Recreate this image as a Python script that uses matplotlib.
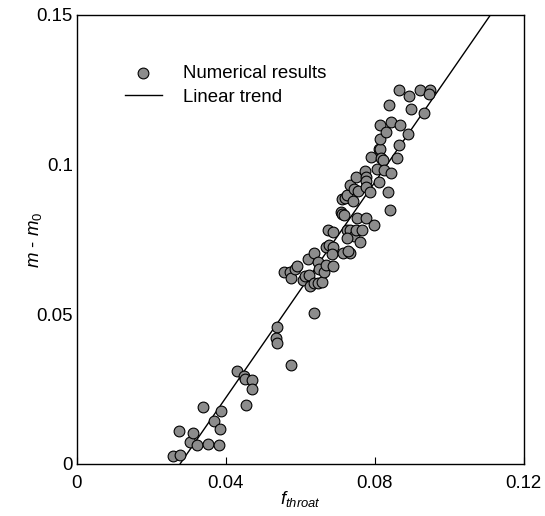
import matplotlib
matplotlib.use('Agg')
import matplotlib.pyplot as plt
import numpy as np

plt.rcParams['font.family'] = ['Liberation Sans', 'DejaVu Sans']
plt.rcParams['mathtext.fontset'] = 'custom'
plt.rcParams['mathtext.it'] = 'Liberation Sans:italic'
plt.rcParams['mathtext.rm'] = 'Liberation Sans'

# numerical results
f_throat = [0.0257, 0.0277, 0.0274, 0.0304, 0.0311, 0.0322, 0.0340, 0.0353, 0.0368, 0.0385,
            0.0388, 0.0383, 0.0430, 0.0450, 0.0452, 0.0470, 0.0471, 0.0453, 0.0538, 0.0536,
            0.0537, 0.0576, 0.0636, 0.0556, 0.0573, 0.0576, 0.0587, 0.0592, 0.0606, 0.0613,
            0.0624, 0.0627, 0.0638, 0.0647, 0.0657, 0.0622, 0.0636, 0.0647, 0.0650, 0.0663,
            0.0669, 0.0687, 0.0670, 0.0675, 0.0687, 0.0678, 0.0689, 0.0684, 0.0715, 0.0734,
            0.0729, 0.0710, 0.0712, 0.0717, 0.0712, 0.0720, 0.0726, 0.0742, 0.0734, 0.0745,
            0.0754, 0.0750, 0.0726, 0.0734, 0.0743, 0.0750, 0.0766, 0.0761, 0.0751, 0.0777,
            0.0798, 0.0775, 0.0776, 0.0776, 0.0777, 0.0787, 0.0789, 0.0805, 0.0810, 0.0810,
            0.0815, 0.0816, 0.0821, 0.0824, 0.0815, 0.0813, 0.0831, 0.0838, 0.0843, 0.0836,
            0.0840, 0.0844, 0.0861, 0.0864, 0.0868, 0.0866, 0.0892, 0.0898, 0.0889, 0.0921,
            0.0947, 0.0946, 0.0932, 0.0726]
dm = [0.0028, 0.0031, 0.0110, 0.0074, 0.0103, 0.0062, 0.0191, 0.0068, 0.0143, 0.0117,
      0.0176, 0.0064, 0.0310, 0.0293, 0.0282, 0.0280, 0.0249, 0.0196, 0.0458, 0.0421,
      0.0405, 0.0329, 0.0505, 0.0642, 0.0642, 0.0620, 0.0652, 0.0661, 0.0616, 0.0627,
      0.0631, 0.0594, 0.0605, 0.0605, 0.0608, 0.0683, 0.0703, 0.0674, 0.0652, 0.0641,
      0.0664, 0.0661, 0.0726, 0.0780, 0.0776, 0.0733, 0.0726, 0.0702, 0.0703, 0.0703,
      0.0711, 0.0841, 0.0834, 0.0830, 0.0886, 0.0889, 0.0897, 0.0880, 0.0931, 0.0919,
      0.0912, 0.0960, 0.0783, 0.0780, 0.0763, 0.0783, 0.0780, 0.0742, 0.0820, 0.0822,
      0.0797, 0.0978, 0.0960, 0.0945, 0.0925, 0.0908, 0.1025, 0.0984, 0.0942, 0.1051,
      0.1051, 0.1023, 0.1017, 0.0981, 0.1084, 0.1132, 0.1109, 0.1198, 0.0973, 0.0909,
      0.0848, 0.1143, 0.1023, 0.1065, 0.1132, 0.1248, 0.1229, 0.1185, 0.1101, 0.1249,
      0.1248, 0.1235, 0.1174, 0.0754]

# linear trend
slope = 1.80
intercept = -0.0499

fig = plt.figure(figsize=(5.45, 5.16), dpi=100)
ax = fig.add_axes([0.141, 0.101, 0.82, 0.87])

xl = np.array([0.0, 0.12])
ax.plot(xl, slope * xl + intercept, color='black', lw=1.0, label='Linear trend', zorder=2)
ax.scatter(f_throat, dm, s=60, facecolor='#8c8c8c', edgecolor='black', linewidths=0.8,
           label='Numerical results', zorder=3)

ax.set_xlim(0, 0.12)
ax.set_ylim(0, 0.15)
ax.set_xticks([0, 0.04, 0.08, 0.12])
ax.set_xticklabels(['0', '0.04', '0.08', '0.12'])
ax.set_yticks([0, 0.05, 0.1, 0.15])
ax.set_yticklabels(['0', '0.05', '0.1', '0.15'])
ax.tick_params(direction='in', labelsize=13.4, length=5, width=0.8)
ax.tick_params(axis='x', pad=8)
ax.tick_params(axis='y', length=0, pad=3)
for s in ax.spines.values():
    s.set_linewidth(1.0)

ax.set_xlabel(r'$f_{throat}$', fontsize=13.4, labelpad=-2)
ax.set_ylabel(r'$m$ - $m_\mathrm{0}$', fontsize=13.4)
ax.yaxis.set_label_coords(-0.073, 0.5)

h, l = ax.get_legend_handles_labels()
ax.legend(h[::-1], l[::-1], loc='upper left', bbox_to_anchor=(0.07, 0.926), frameon=False,
          fontsize=13.4, handlelength=2.0, labelspacing=0.35, handletextpad=1.1)

fig.savefig('out.png', dpi=100)
